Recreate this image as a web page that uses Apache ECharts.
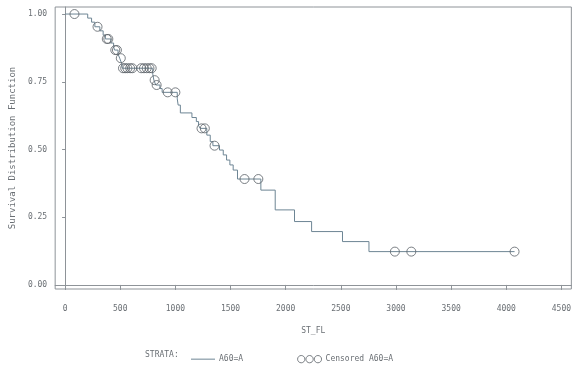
<!DOCTYPE html>
<html>
<head>
<meta charset="utf-8">
<script src="https://cdn.jsdelivr.net/npm/echarts@6/dist/echarts.min.js"></script>
<style>
    html, body { margin: 0; padding: 0; background: #fff; }
    #chart { width: 574px; height: 365px; }
</style>
</head>
<body>
<div id="chart"></div>
<script>
// step points of the survival curve (time, survival after that time)
const stepTime = [0, 205, 240, 270, 315, 345, 365, 415, 440, 448, 480, 495, 512, 518, 795, 805, 822, 860, 880,
    1017, 1025, 1045, 1150, 1190, 1210, 1225, 1285, 1316, 1340, 1400, 1434, 1464, 1494, 1524, 1563,
    1775, 1905, 2080, 2235, 2515, 2755, 4075];
const stepSurv = [1.0, 0.985, 0.970, 0.953, 0.938, 0.922, 0.908, 0.893, 0.880, 0.867, 0.852, 0.837, 0.818, 0.800, 0.778, 0.756, 0.738, 0.725, 0.711,
    0.687, 0.664, 0.635, 0.618, 0.603, 0.588, 0.578, 0.553, 0.529, 0.514, 0.498, 0.480, 0.461, 0.443, 0.424, 0.391,
    0.350, 0.277, 0.234, 0.197, 0.160, 0.123, 0.123];
// censored observations
const censTime = [85, 294, 378, 392, 455, 470, 505, 525, 545, 565, 590, 610, 690, 715, 740, 765, 785, 812, 830,
    930, 1000, 1237, 1267, 1355, 1627, 1752, 2990, 3139, 4075];
const censSurv = [1.0, 0.953, 0.908, 0.908, 0.867, 0.867, 0.837, 0.80, 0.80, 0.80, 0.80, 0.80, 0.80, 0.80, 0.80, 0.80, 0.80, 0.756, 0.738,
    0.711, 0.711, 0.578, 0.578, 0.514, 0.391, 0.391, 0.123, 0.123, 0.123];
// tick labels
const xTicks = [0, 500, 1000, 1500, 2000, 2500, 3000, 3500, 4000, 4500];
const yTicks = [0, 0.25, 0.5, 0.75, 1];

const mono = 'DejaVu Sans Mono';
const textColor = '#6a6f74';
const boxColor = '#8e9398';
const lineColor = '#6d8594';
const circColor = '#5a6066';

const curve = stepTime.map((t, i) => [t, stepSurv[i]]);
const cens = censTime.map((t, i) => [t, censSurv[i]]);

// three small circles for the censored legend icon (bezier, no arcs)
function circlePath(cx, cy, r) {
    const k = 0.5523 * r;
    return 'M' + (cx - r) + ',' + cy +
        ' C' + (cx - r) + ',' + (cy - k) + ' ' + (cx - k) + ',' + (cy - r) + ' ' + cx + ',' + (cy - r) +
        ' C' + (cx + k) + ',' + (cy - r) + ' ' + (cx + r) + ',' + (cy - k) + ' ' + (cx + r) + ',' + cy +
        ' C' + (cx + r) + ',' + (cy + k) + ' ' + (cx + k) + ',' + (cy + r) + ' ' + cx + ',' + (cy + r) +
        ' C' + (cx - k) + ',' + (cy + r) + ' ' + (cx - r) + ',' + (cy + k) + ' ' + (cx - r) + ',' + cy + ' Z';
}
const censIcon = 'path://' + circlePath(4, 4, 3.5) + ' ' + circlePath(12, 4, 3.5) + ' ' + circlePath(20, 4, 3.5);

const option = {
    animation: false,
    backgroundColor: '#fff',
    grid: {
        left: 52,
        right: 1,
        top: 7,
        bottom: 76,
        show: true,
        borderColor: boxColor,
        borderWidth: 1,
    },
    xAxis: {
        type: 'value',
        min: -90,
        max: 4590,
        name: 'ST_FL',
        nameLocation: 'middle',
        nameGap: 38,
        nameTextStyle: { color: textColor, fontFamily: mono, fontSize: 8 },
        axisLine: { show: true, lineStyle: { color: boxColor } },
        axisTick: { show: true, length: 5, customValues: xTicks, lineStyle: { color: boxColor } },
        axisLabel: {
            customValues: xTicks,
            margin: 16,
            color: textColor,
            fontFamily: mono,
            fontSize: 8,
            formatter: (v) => String(v),
        },
        splitLine: { show: false },
    },
    yAxis: {
        type: 'value',
        min: -0.015,
        max: 1.026,
        name: 'Survival Distribution Function',
        nameLocation: 'middle',
        nameGap: 36,
        nameTextStyle: { color: textColor, fontFamily: mono, fontSize: 9 },
        axisLine: { show: true, lineStyle: { color: boxColor } },
        axisTick: { show: true, length: 3, customValues: yTicks, lineStyle: { color: boxColor } },
        axisLabel: {
            customValues: yTicks,
            margin: 8,
            color: textColor,
            fontFamily: mono,
            fontSize: 8,
            formatter: (v) => v.toFixed(2),
        },
        splitLine: { show: false },
    },
    legend: {
        left: 186,
        top: 350,
        itemGap: 54,
        itemWidth: 24,
        itemHeight: 8,
        textStyle: { color: textColor, fontFamily: mono, fontSize: 8, padding: [0, 0, 0, -1] },
        data: [
            { name: 'A60=A', icon: 'path://M0,0 L24,0 L24,1 L0,1 Z', itemStyle: { color: lineColor } },
            {
                name: 'Censored A60=A',
                icon: censIcon,
                itemStyle: { color: 'transparent', borderColor: circColor, borderWidth: 1 },
            },
        ],
    },
    graphic: [
        {
            type: 'text',
            left: 145,
            top: 351,
            style: { text: 'STRATA:', fill: textColor, font: '8px "DejaVu Sans Mono"' },
        },
    ],
    series: [
        {
            name: 'A60=A',
            type: 'line',
            step: 'end',
            symbol: 'none',
            data: curve,
            lineStyle: { color: lineColor, width: 1 },
            itemStyle: { color: lineColor },
            z: 2,
        },
        {
            name: 'Censored A60=A',
            type: 'scatter',
            symbol: 'circle',
            symbolSize: 9,
            data: cens,
            itemStyle: { color: 'transparent', borderColor: circColor, borderWidth: 1 },
            z: 3,
        },
    ],
};

let myChart = echarts.init(document.getElementById('chart'));
myChart.setOption(option);
</script>
</body>
</html>
